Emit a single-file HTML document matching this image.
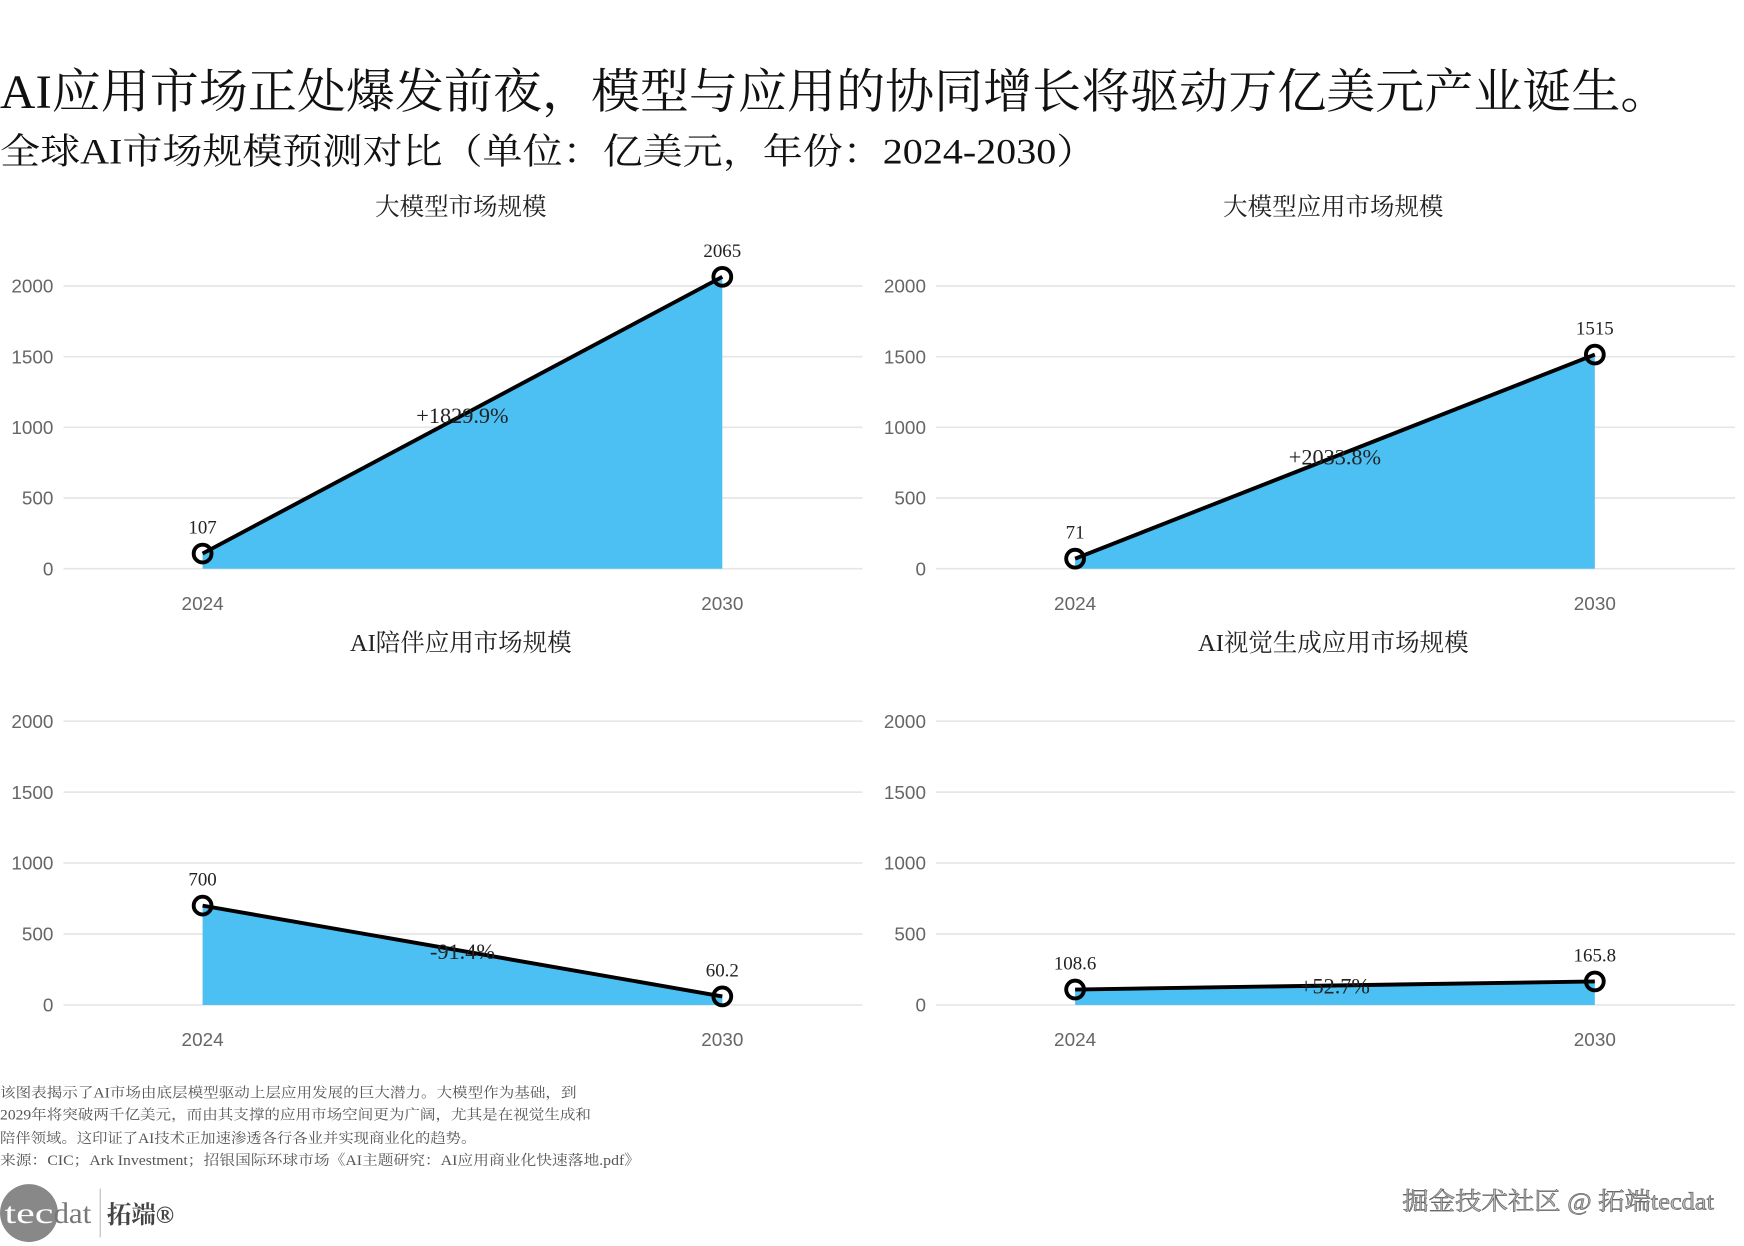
<!DOCTYPE html>
<html><head><meta charset="utf-8"><style>
html,body{margin:0;padding:0;background:#fff;}
svg{display:block;}
text{font-family:"Liberation Serif","Noto Serif CJK SC",serif;}
.tick{font-family:"Liberation Sans","Noto Sans CJK SC",sans-serif;font-size:17px;fill:#666;}
</style></head><body>
<svg id="chart" width="1744" height="1246" viewBox="0 0 1567 1119.6" xmlns="http://www.w3.org/2000/svg">
<text x="0" y="97" font-size="43" fill="#111" textLength="1500" lengthAdjust="spacingAndGlyphs">AI应用市场正处爆发前夜，模型与应用的协同增长将驱动万亿美元产业诞生。</text>
<text x="0" y="147" font-size="32" fill="#111" textLength="985" lengthAdjust="spacingAndGlyphs">全球AI市场规模预测对比（单位：亿美元，年份：2024-2030）</text>
<g id="panels"></g>
<g font-size="13" fill="#555">
<text x="0" y="986" textLength="518" lengthAdjust="spacingAndGlyphs">该图表揭示了AI市场由底层模型驱动上层应用发展的巨大潜力。大模型作为基础，到</text>
<text x="0" y="1006" textLength="531" lengthAdjust="spacingAndGlyphs">2029年将突破两千亿美元，而由其支撑的应用市场空间更为广阔，尤其是在视觉生成和</text>
<text x="0" y="1027" textLength="428" lengthAdjust="spacingAndGlyphs">陪伴领域。这印证了AI技术正加速渗透各行各业并实现商业化的趋势。</text>
<text x="0" y="1047" textLength="575" lengthAdjust="spacingAndGlyphs">来源：CIC；Ark Investment；招银国际环球市场《AI主题研究：AI应用商业化快速落地.pdf》</text>
</g>
<g>
<circle cx="26" cy="1090" r="26" fill="#888"/>
<text x="4" y="1099" font-size="27" fill="#fff" font-family="Liberation Sans,sans-serif" textLength="44" lengthAdjust="spacingAndGlyphs">tec</text>
<text x="48" y="1099" font-size="27" fill="#777" font-family="Liberation Sans,sans-serif" textLength="34" lengthAdjust="spacingAndGlyphs">dat</text>
<line x1="90" y1="1068" x2="90" y2="1112" stroke="#bbb" stroke-width="1"/>
<text x="96" y="1099" font-size="22" font-weight="bold" fill="#444" font-family="Liberation Sans,'Noto Sans CJK SC',sans-serif">拓端®</text>
</g>
<text x="1540" y="1087" text-anchor="end" font-size="22" fill="#bbb" stroke="#666" stroke-width="0.6" font-family="Liberation Sans,'Noto Sans CJK SC',sans-serif" textLength="280" lengthAdjust="spacingAndGlyphs">掘金技术社区 @ 拓端tecdat</text>
</svg>
<script>
const titles = ['大模型市场规模','大模型应用市场规模','AI陪伴应用市场规模','AI视觉生成应用市场规模'];
const years = ['2024','2030'];
const startValues = [107, 71, 700, 108.6];
const endValues = [2065, 1515, 60.2, 165.8];
const valueLabels = [['107','2065'],['71','1515'],['700','60.2'],['108.6','165.8']];
const pctLabels = ['+1829.9%','+2033.8%','-91.4%','+52.7%'];
const yTicks = [0, 500, 1000, 1500, 2000];
const NS = 'http://www.w3.org/2000/svg';
const root = document.getElementById('panels');
function mk(tag, attrs, parent){const e=document.createElementNS(NS,tag);for(const k in attrs)e.setAttribute(k,attrs[k]);parent.appendChild(e);return e;}
titles.forEach((t,i)=>{
  const ox = (i%2)*784, row = Math.floor(i/2);
  const y0 = row ? 903 : 511, y2000 = row ? 648 : 257;
  const yS = v => y0 - (v/2000)*(y0-y2000);
  const xS = j => ox + 182 + j*(649-182);
  const g = mk('g',{},root);
  
  
  const tt = mk('text',{x:ox+414,y:(row?585:193),'text-anchor':'middle','font-size':22,fill:'#222'},g);
  tt.textContent = t;
  
  
  yTicks.forEach(v=>{
    const l = mk('line',{x1:ox+57,x2:ox+775,y1:yS(v),y2:yS(v),stroke:'#e6e6e6','stroke-width':1.5},g);
    
    
    const tx = mk('text',{x:ox+48,y:yS(v)+6,'text-anchor':'end',class:'tick'},g);
    tx.textContent = v;
    
    
  });
  years.forEach((yr,j)=>{
    const tx = mk('text',{x:xS(j),y:y0+37,'text-anchor':'middle',class:'tick'},g);
    tx.textContent = yr;
    
    
  });
  const vals = [startValues[i], endValues[i]];
  const area = mk('polygon',{points:`${xS(0)},${y0} ${xS(0)},${yS(vals[0])} ${xS(1)},${yS(vals[1])} ${xS(1)},${y0}`,fill:'#4cbff3'},g);
  
  
  const ln = mk('line',{x1:xS(0),y1:yS(vals[0]),x2:xS(1),y2:yS(vals[1]),stroke:'#000','stroke-width':3.5},g);
  
  
  vals.forEach((v,j)=>{
    const c = mk('circle',{cx:xS(j),cy:yS(v),r:8,fill:'none',stroke:'#000','stroke-width':3.5},g);
    
    
    const lb = mk('text',{x:xS(j),y:yS(v)-18,'text-anchor':'middle','font-size':17,fill:'#222'},g);
    lb.textContent = valueLabels[i][j];
    
    
  });
  const pm = mk('text',{x:(xS(0)+xS(1))/2,y:(yS(vals[0])+yS(vals[1]))/2+7,'text-anchor':'middle','font-size':20,fill:'#222'},g);
  pm.textContent = pctLabels[i];
  
  
});
</script>
</body></html>
